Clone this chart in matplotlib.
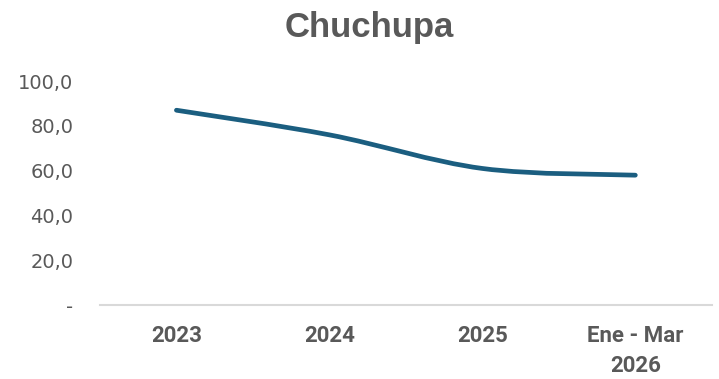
import matplotlib.pyplot as plt
from matplotlib.path import Path
from matplotlib.patches import PathPatch
from matplotlib.ticker import FuncFormatter
import numpy as np

categories = ['2023', '2024', '2025', 'Ene - Mar\n2026']
values = [87.0, 76.0, 61.0, 58.0]
y_ticks = [0, 20, 40, 60, 80, 100]

grey = '#595959'
line_color = '#1B5E80'

plt.rcParams['font.family'] = ['Roboto', 'DejaVu Sans']

fig = plt.figure(figsize=(7.19, 3.79), dpi=100)
ax = fig.add_axes([0.139, 0.195, 0.851, 0.591])

# smoothed line (Excel-style), bezier through the data points
x = np.arange(len(values), dtype=float)
y = np.array(values)
verts = [(x[0], y[0])]
codes = [Path.MOVETO]
t = 1 / 6
for i in range(len(x) - 1):
    p0 = (x[i - 1], y[i - 1]) if i > 0 else (x[i], y[i])
    p3 = (x[i + 2], y[i + 2]) if i + 2 < len(x) else (x[i + 1], y[i + 1])
    c1 = (x[i] + (x[i + 1] - p0[0]) * t, y[i] + (y[i + 1] - p0[1]) * t)
    c2 = (x[i + 1] - (p3[0] - x[i]) * t, y[i + 1] - (p3[1] - y[i]) * t)
    verts += [c1, c2, (x[i + 1], y[i + 1])]
    codes += [Path.CURVE4] * 3
ax.add_patch(PathPatch(Path(verts, codes), fill=False, edgecolor=line_color,
                       linewidth=3.4, capstyle='round', joinstyle='round'))

ax.set_xlim(-0.5, len(categories) - 0.5)
ax.set_ylim(0, 100)
ax.set_xticks(x)
ax.set_xticklabels(categories, fontweight='bold', linespacing=1.5)
ax.set_yticks(y_ticks)
ax.yaxis.set_major_formatter(FuncFormatter(
    lambda v, p: '-' if v == 0 else f'{v:.1f}'.replace('.', ',')))

for s in ['top', 'right', 'left']:
    ax.spines[s].set_visible(False)
ax.spines['bottom'].set_color('#D9D9D9')
ax.spines['bottom'].set_linewidth(1.5)
ax.tick_params(axis='both', length=0, colors=grey)
ax.tick_params(axis='x', pad=14, labelsize=16)
ax.tick_params(axis='y', pad=19, labelsize=14)
for lab in ax.get_yticklabels():
    lab.set_family(['DejaVu Sans'])

fig.text(0.513, 0.928, 'Chuchupa', ha='center', va='center',
         fontsize=25, fontweight='bold', color=grey,
         family=['Liberation Sans', 'DejaVu Sans'])

fig.savefig('out.png', dpi=100)
